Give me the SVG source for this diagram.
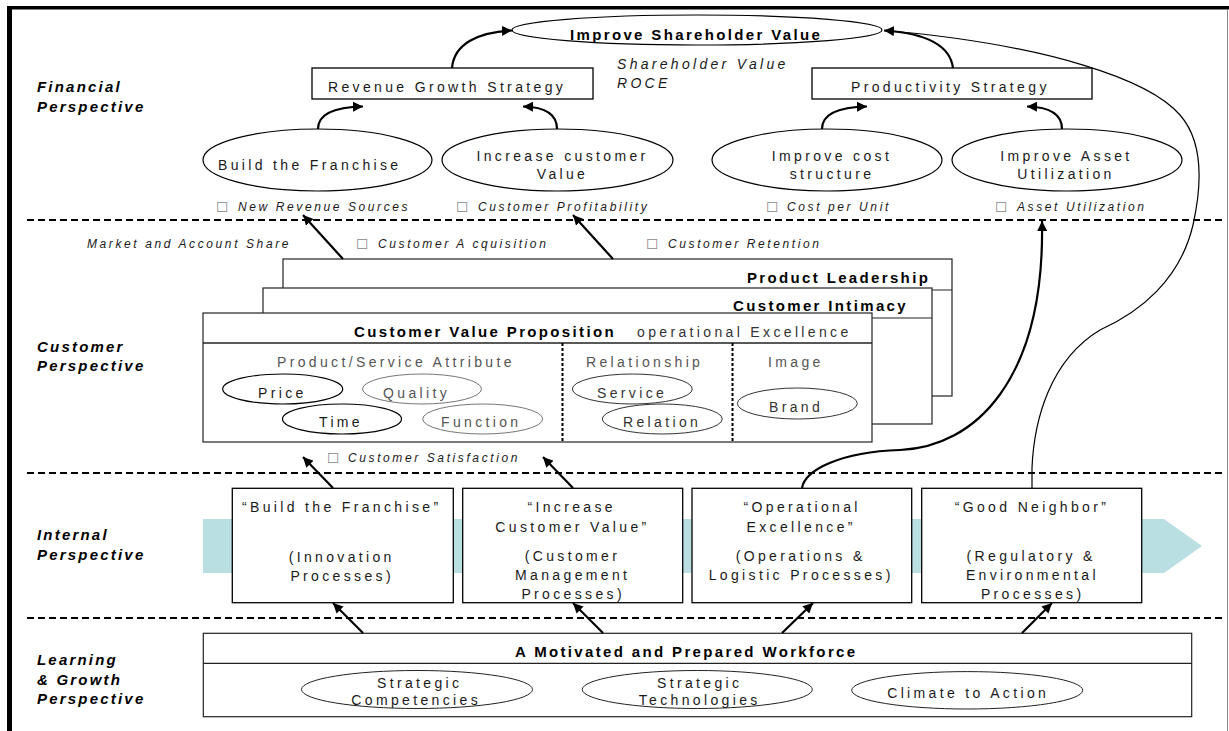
<svg xmlns="http://www.w3.org/2000/svg" width="1229" height="731" viewBox="0 0 1229 731">
<style>
.lbl{font-family:"Liberation Sans",Arial,sans-serif;font-weight:bold;font-style:italic;font-size:15px;letter-spacing:2.2px;fill:#000}
.b{font-family:"Liberation Sans",Arial,sans-serif;font-weight:bold;font-size:15px;letter-spacing:2.35px;fill:#000}
.r{font-family:"Liberation Sans",Arial,sans-serif;font-size:14px;letter-spacing:3.35px;fill:#1a1a1a}
.rc{font-family:"Liberation Sans",Arial,sans-serif;font-size:14px;letter-spacing:3.35px;fill:#1a1a1a;text-anchor:middle}
.g{fill:#555}
.g2{fill:#333}
.it{font-family:"Liberation Sans",Arial,sans-serif;font-style:italic;font-size:14px;letter-spacing:3.3px;fill:#1a1a1a}
.m{font-family:"Liberation Sans",Arial,sans-serif;font-style:italic;font-size:12px;letter-spacing:2.6px;fill:#1a1a1a}
.chk{font-family:"DejaVu Sans",sans-serif;font-style:italic;font-size:14px;fill:#888;letter-spacing:0}
.box{fill:#fff;stroke:#000;stroke-width:1.3}
.box2{fill:#fff;stroke:#222;stroke-width:1.2}
.ell{fill:#fff;stroke:#000;stroke-width:1.2}
.ellg{fill:#fff;stroke:#777;stroke-width:1}
.elld{fill:#fff;stroke:#333;stroke-width:1}
.ellt{fill:none;stroke:#222;stroke-width:1}
.dash{stroke:#000;stroke-width:1.8;stroke-dasharray:7 4;fill:none}
.dot{stroke:#000;stroke-width:2;stroke-dasharray:3 2;fill:none}
.con{fill:none;stroke:#000;stroke-width:2.2;marker-end:url(#ah)}
.thin{fill:none;stroke:#000;stroke-width:1.2}
</style>
<defs>
<marker id="ah" markerUnits="userSpaceOnUse" markerWidth="11" markerHeight="10" refX="10" refY="5" orient="auto">
<path d="M0,0 L10,5 L0,10 z" fill="#000"/>
</marker>
</defs>
<rect x="0" y="0" width="1229" height="731" fill="#fff"/>
<!-- frame -->
<rect x="7" y="6" width="1222" height="3.5" fill="#000"/>
<rect x="7" y="6" width="5" height="725" fill="#000"/>
<line x1="1227.5" y1="9" x2="1227.5" y2="731" stroke="#888" stroke-width="1"/>

<!-- separators -->
<g id="separators">
<line class="dash" x1="27" y1="220" x2="1224" y2="220"/>
<line class="dash" x1="27" y1="473" x2="1224" y2="473"/>
<line class="dash" x1="27" y1="618" x2="1224" y2="618"/>
</g>

<!-- perspective labels -->
<g id="labels">
<text class="lbl" x="37" y="92">Financial</text>
<text class="lbl" x="37" y="112">Perspective</text>
<text class="lbl" x="37" y="352">Customer</text>
<text class="lbl" x="37" y="371">Perspective</text>
<text class="lbl" x="37" y="540">Internal</text>
<text class="lbl" x="37" y="560">Perspective</text>
<text class="lbl" x="37" y="665">Learning</text>
<text class="lbl" x="37" y="685">&amp; Growth</text>
<text class="lbl" x="37" y="704">Perspective</text>
</g>

<!-- Financial -->
<g id="shareholder">
<ellipse class="ell" cx="697" cy="30" rx="185" ry="15"/>
<text class="b" x="570" y="39.5">Improve Shareholder Value</text>
</g>
<g id="roce">
<text class="it" x="617" y="69">Shareholder Value</text>
<text class="it" x="617" y="88">ROCE</text>
</g>
<g id="revenue">
<rect class="box" x="312" y="68" width="281" height="31"/>
<text class="r" x="328" y="92">Revenue Growth Strategy</text>
</g>
<g id="productivity">
<rect class="box" x="812" y="68" width="280" height="31"/>
<text class="r" x="851" y="92">Productivity Strategy</text>
</g>
<g id="franchise">
<ellipse class="ell" cx="317.5" cy="160" rx="114.5" ry="31"/>
<text class="r" x="218" y="170">Build the Franchise</text>
</g>
<g id="custvalue">
<ellipse class="ell" cx="557.5" cy="160" rx="115.5" ry="31"/>
<text class="rc" x="562.5" y="160.5">Increase customer</text>
<text class="rc" x="562.5" y="179">Value</text>
</g>
<g id="coststructure">
<ellipse class="ell" cx="827" cy="160" rx="115" ry="31"/>
<text class="rc" x="832" y="160.5">Improve cost</text>
<text class="rc" x="832" y="179">structure</text>
</g>
<g id="assetutil">
<ellipse class="ell" cx="1067" cy="160" rx="115" ry="31"/>
<text class="rc" x="1066.5" y="160.5">Improve Asset</text>
<text class="rc" x="1066" y="179">Utilization</text>
</g>
<g id="fin-measures">
<text class="chk" x="216" y="212">☐</text><text class="m" x="238" y="211">New Revenue Sources</text>
<text class="chk" x="456" y="212">☐</text><text class="m" x="478" y="211">Customer Profitability</text>
<text class="chk" x="766" y="212">☐</text><text class="m" x="787" y="211">Cost per Unit</text>
<text class="chk" x="995" y="212">☐</text><text class="m" x="1017" y="211">Asset Utilization</text>
</g>

<!-- Customer -->
<g id="cust-measures">
<text class="m" x="87" y="248">Market and Account Share</text>
<text class="chk" x="356" y="249">☐</text><text class="m" x="378" y="248">Customer A cquisition</text>
<text class="chk" x="646" y="249">☐</text><text class="m" x="668" y="248">Customer Retention</text>
<text class="chk" x="327" y="463">☐</text><text class="m" x="348" y="462">Customer Satisfaction</text>
</g>
<g id="productleadership">
<rect class="box2" x="283" y="259" width="669" height="137"/>
<line x1="283" y1="290" x2="952" y2="290" stroke="#222" stroke-width="1.2"/>
<text class="b" x="747" y="283">Product Leadership</text>
</g>
<g id="customerintimacy">
<rect class="box2" x="263" y="288" width="669" height="136"/>
<line x1="263" y1="318" x2="932" y2="318" stroke="#222" stroke-width="1.2"/>
<text class="b" x="733" y="311">Customer Intimacy</text>
</g>
<g id="cvp">
<rect class="box2" x="203" y="313" width="669" height="129"/>
<line x1="203" y1="343" x2="872" y2="343" stroke="#222" stroke-width="1.3"/>
<text class="b" x="354" y="337">Customer Value Proposition</text>
<text class="r g2" x="637" y="337">operational Excellence</text>
<line class="dot" x1="562.5" y1="343" x2="562.5" y2="442"/>
<line class="dot" x1="732.5" y1="343" x2="732.5" y2="442"/>
<text class="r g" x="277" y="367">Product/Service Attribute</text>
<text class="r g" x="586" y="367">Relationship</text>
<text class="r g" x="768" y="367">Image</text>
</g>
<g id="price">
<ellipse class="ell" cx="282.7" cy="389" rx="60" ry="15"/>
<text class="r" x="258" y="398">Price</text>
</g>
<g id="quality">
<ellipse class="ellg" cx="422" cy="389" rx="59.5" ry="15"/>
<text class="r g" x="383" y="398">Quality</text>
</g>
<g id="time">
<ellipse class="ell" cx="342" cy="419" rx="59.5" ry="15"/>
<text class="r" x="319" y="427">Time</text>
</g>
<g id="function">
<ellipse class="ellg" cx="482.7" cy="419" rx="60" ry="15"/>
<text class="r g" x="441" y="427">Function</text>
</g>
<g id="service">
<ellipse class="elld" cx="632.3" cy="389" rx="60" ry="15"/>
<text class="r g2" x="597" y="398">Service</text>
</g>
<g id="relation">
<ellipse class="elld" cx="662.3" cy="419" rx="60" ry="15"/>
<text class="r g2" x="623" y="427">Relation</text>
</g>
<g id="brand">
<ellipse class="elld" cx="797.3" cy="403.5" rx="60" ry="15.5"/>
<text class="r g2" x="769" y="412">Brand</text>
</g>

<!-- Internal -->
<polygon points="203,519 1164,519 1202,546 1164,573 203,573" fill="#b9dfe3"/>
<g id="proc-franchise">
<rect class="box" x="232.3" y="488.3" width="221" height="114.4"/>
<text class="rc" x="341.7" y="512">“Build the Franchise”</text>
<text class="rc" x="341.7" y="561.5">(Innovation</text>
<text class="rc" x="342.2" y="580.5">Processes)</text>
</g>
<g id="proc-customer">
<rect class="box" x="462.7" y="488.3" width="220" height="114.4"/>
<text class="rc" x="571.7" y="512">“Increase</text>
<text class="rc" x="572.5" y="531.5">Customer Value”</text>
<text class="rc" x="572.5" y="561">(Customer</text>
<text class="rc" x="572.7" y="580">Management</text>
<text class="rc" x="573.2" y="599">Processes)</text>
</g>
<g id="proc-operations">
<rect class="box" x="692" y="488.3" width="219.7" height="114.4"/>
<text class="rc" x="802.2" y="512">“Operational</text>
<text class="rc" x="801.2" y="531.5">Excellence”</text>
<text class="rc" x="800.7" y="561">(Operations &amp;</text>
<text class="rc" x="801.2" y="580">Logistic Processes)</text>
</g>
<g id="proc-neighbor">
<rect class="box" x="921.7" y="488.3" width="220" height="114.4"/>
<text class="rc" x="1032" y="512">“Good Neighbor”</text>
<text class="rc" x="1031.2" y="561">(Regulatory &amp;</text>
<text class="rc" x="1032.4" y="580">Environmental</text>
<text class="rc" x="1032.7" y="599">Processes)</text>
</g>

<!-- Learning & Growth -->
<g id="workforce">
<rect class="box2" x="203.3" y="633.3" width="988.4" height="83.4"/>
<line x1="203.3" y1="663.3" x2="1191.7" y2="663.3" stroke="#222" stroke-width="1.2"/>
<text class="b" x="515" y="657">A Motivated and Prepared Workforce</text>
</g>
<g id="competencies">
<ellipse class="ellt" cx="417" cy="689.5" rx="115.5" ry="19"/>
<text class="rc" x="419.7" y="687.5">Strategic</text>
<text class="rc" x="416.2" y="705">Competencies</text>
</g>
<g id="technologies">
<ellipse class="ellt" cx="697.3" cy="689.5" rx="115" ry="19"/>
<text class="rc" x="699.7" y="687.5">Strategic</text>
<text class="rc" x="699.7" y="705">Technologies</text>
</g>
<g id="climate">
<ellipse class="ellt" cx="967.2" cy="690.3" rx="115.5" ry="18.7"/>
<text class="rc" x="968.2" y="698">Climate to Action</text>
</g>

<!-- connectors -->
<g id="connectors">
<path class="con" d="M452,68 C454,44 478,32 512,30.5"/>
<path class="con" d="M953,68 C950,44 922,33 884,30.5"/>
<path class="con" d="M318,129 C318,114 335,107 363,106.5"/>
<path class="con" d="M557,129 C557,114 545,107 523,106.5"/>
<path class="con" d="M822,129 C822,114 839,107 867,106.5"/>
<path class="con" d="M1062,129 C1062,114 1050,107 1027,106.5"/>
<path class="con" d="M343,259 L303,215"/>
<path class="con" d="M613,259 L573,215"/>
<path class="con" d="M802,488 C805,470 840,452 900,450 C975,447 1045,380 1042,221"/>
<path class="thin" d="M1032,488 L1032,468 C1034,420 1050,360 1100,330 C1140,312 1180,280 1193,225 C1203,180 1202,140 1180,115 C1150,80 1050,45 886,30.5"/>
<path class="con" d="M333,488 L303,457"/>
<path class="con" d="M573,488 L543,457"/>
<path class="con" d="M363,633 L333,603"/>
<path class="con" d="M603,633 L573,603"/>
<path class="con" d="M782,633 L813,603"/>
<path class="con" d="M1022,633 L1052,603"/>
</g>
</svg>
